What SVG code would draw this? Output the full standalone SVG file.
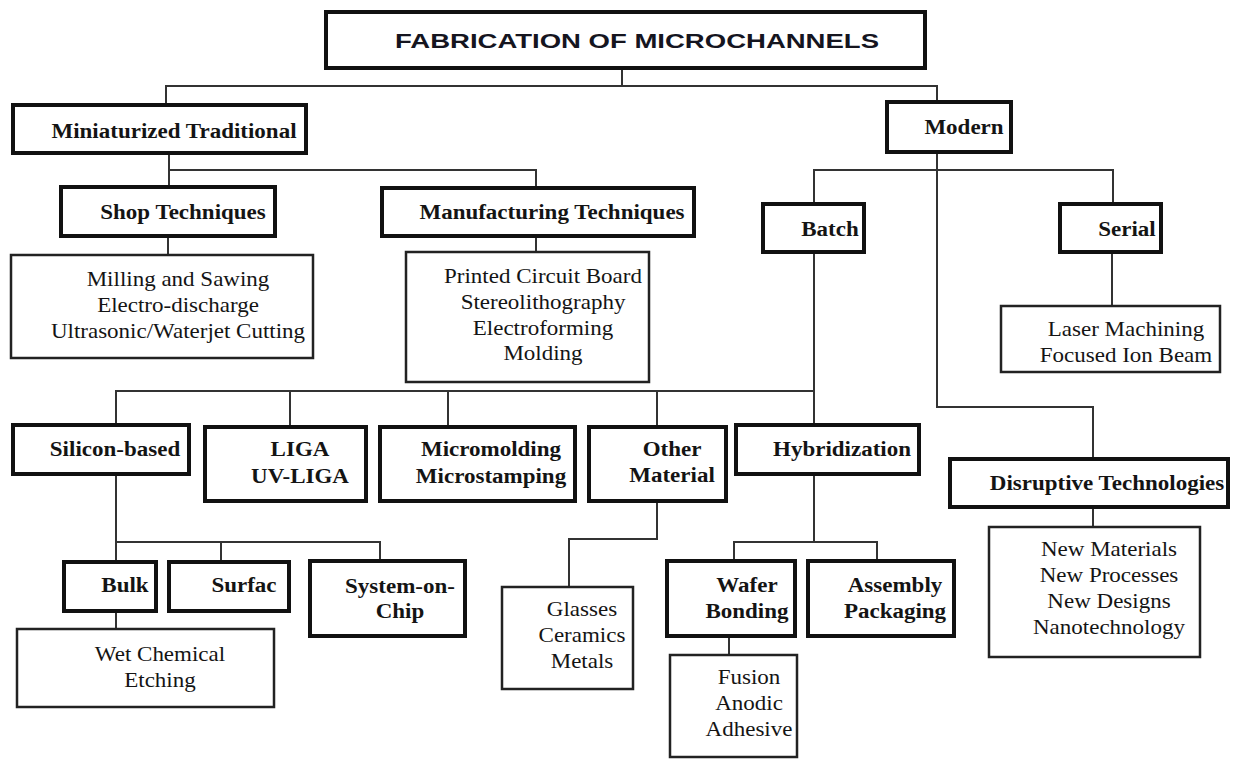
<svg xmlns="http://www.w3.org/2000/svg" width="1233" height="761" viewBox="0 0 1233 761">
<style>
.thick{fill:#fff;stroke:#111;stroke-width:4}
.thin{fill:#fff;stroke:#222;stroke-width:2.5}
.c{fill:none;stroke:#333;stroke-width:2}
.b{font-family:"Liberation Serif","Times New Roman",serif;font-weight:bold;font-size:20px;fill:#141414;text-anchor:middle}
.r{font-family:"Liberation Serif","Times New Roman",serif;font-size:20px;fill:#141414;text-anchor:middle}
.t{font-family:"Liberation Sans",Arial,sans-serif;font-weight:bold;font-size:21px;fill:#15151f}
</style>
<rect width="1233" height="761" fill="#fff"/>
<g id="connectors">
<path class="c" d="M622,70V86M166,103V86H937V100"/>
<path class="c" d="M169,155V170M169,185V170H536V187"/>
<path class="c" d="M168,238V254"/>
<path class="c" d="M536,238V252"/>
<path class="c" d="M814,202V170H1113V202"/>
<path class="c" d="M937,154V407H1093V457"/>
<path class="c" d="M1112,254V305"/>
<path class="c" d="M814,254V423M116,423V391H814M290,391V425M448,391V425M657,391V425"/>
<path class="c" d="M116,476V560M116,542H380V559M221,542V560"/>
<path class="c" d="M116,613V628"/>
<path class="c" d="M657,503V539H569V586"/>
<path class="c" d="M814,476V542M734,559V542H877V559"/>
<path class="c" d="M729,638V654"/>
<path class="c" d="M1093,509V526"/>
</g>
<g id="title"><rect class="thick" x="326" y="12" width="599" height="56"/><text class="t" x="395" y="48" textLength="484" lengthAdjust="spacingAndGlyphs">FABRICATION OF MICROCHANNELS</text></g>
<g id="miniaturized"><rect class="thick" x="13" y="105" width="293" height="48"/><text class="b" transform="translate(174,0) scale(1.15,1)"><tspan x="0" y="138">Miniaturized Traditional</tspan></text></g>
<g id="modern"><rect class="thick" x="887" y="102" width="124" height="50"/><text class="b" transform="translate(964,0) scale(1.15,1)"><tspan x="0" y="134">Modern</tspan></text></g>
<g id="shop"><rect class="thick" x="61" y="187" width="214" height="49"/><text class="b" transform="translate(183,0) scale(1.15,1)"><tspan x="0" y="219">Shop Techniques</tspan></text></g>
<g id="manufacturing"><rect class="thick" x="382" y="188" width="312" height="48"/><text class="b" transform="translate(552,0) scale(1.15,1)"><tspan x="0" y="219">Manufacturing Techniques</tspan></text></g>
<g id="batch"><rect class="thick" x="763" y="204" width="101" height="48"/><text class="b" transform="translate(830,0) scale(1.15,1)"><tspan x="0" y="236">Batch</tspan></text></g>
<g id="serial"><rect class="thick" x="1060" y="204" width="101" height="48"/><text class="b" transform="translate(1127,0) scale(1.15,1)"><tspan x="0" y="236">Serial</tspan></text></g>
<g id="shop-list"><rect class="thin" x="11" y="255" width="302" height="103"/><text class="r" transform="translate(178,0) scale(1.15,1)"><tspan x="0" y="286">Milling and Sawing</tspan><tspan x="0" y="312">Electro-discharge</tspan><tspan x="0" y="338">Ultrasonic/Waterjet Cutting</tspan></text></g>
<g id="manufacturing-list"><rect class="thin" x="406" y="252" width="243" height="130"/><text class="r" transform="translate(543,0) scale(1.15,1)"><tspan x="0" y="283">Printed Circuit Board</tspan><tspan x="0" y="309">Stereolithography</tspan><tspan x="0" y="335">Electroforming</tspan><tspan x="0" y="360">Molding</tspan></text></g>
<g id="serial-list"><rect class="thin" x="1001" y="306" width="219" height="66"/><text class="r" transform="translate(1126,0) scale(1.15,1)"><tspan x="0" y="336">Laser Machining</tspan><tspan x="0" y="362">Focused Ion Beam</tspan></text></g>
<g id="silicon"><rect class="thick" x="13" y="425" width="176" height="49"/><text class="b" transform="translate(115,0) scale(1.15,1)"><tspan x="0" y="456">Silicon-based</tspan></text></g>
<g id="liga"><rect class="thick" x="205" y="427" width="161" height="74"/><text class="b" transform="translate(300,0) scale(1.15,1)"><tspan x="0" y="456">LIGA</tspan><tspan x="0" y="483">UV-LIGA</tspan></text></g>
<g id="micromolding"><rect class="thick" x="380" y="427" width="195" height="74"/><text class="b" transform="translate(491,0) scale(1.15,1)"><tspan x="0" y="456">Micromolding</tspan><tspan x="0" y="483">Microstamping</tspan></text></g>
<g id="other"><rect class="thick" x="589" y="427" width="137" height="74"/><text class="b" transform="translate(672,0) scale(1.15,1)"><tspan x="0" y="456">Other</tspan><tspan x="0" y="482">Material</tspan></text></g>
<g id="hybridization"><rect class="thick" x="736" y="425" width="183" height="49"/><text class="b" transform="translate(842,0) scale(1.15,1)"><tspan x="0" y="456">Hybridization</tspan></text></g>
<g id="disruptive"><rect class="thick" x="950" y="459" width="278" height="48"/><text class="b" transform="translate(1107,0) scale(1.15,1)"><tspan x="0" y="490">Disruptive Technologies</tspan></text></g>
<g id="bulk"><rect class="thick" x="64" y="562" width="92" height="49"/><text class="b" transform="translate(125,0) scale(1.15,1)"><tspan x="0" y="592">Bulk</tspan></text></g>
<g id="surfac"><rect class="thick" x="169" y="562" width="120" height="49"/><text class="b" transform="translate(244,0) scale(1.15,1)"><tspan x="0" y="592">Surfac</tspan></text></g>
<g id="system-on-chip"><rect class="thick" x="310" y="561" width="155" height="75"/><text class="b" transform="translate(400,0) scale(1.15,1)"><tspan x="0" y="593">System-on-</tspan><tspan x="0" y="618">Chip</tspan></text></g>
<g id="wet"><rect class="thin" x="17" y="629" width="257" height="78"/><text class="r" transform="translate(160,0) scale(1.15,1)"><tspan x="0" y="661">Wet Chemical</tspan><tspan x="0" y="687">Etching</tspan></text></g>
<g id="materials-list"><rect class="thin" x="502" y="587" width="131" height="102"/><text class="r" transform="translate(582,0) scale(1.15,1)"><tspan x="0" y="616">Glasses</tspan><tspan x="0" y="642">Ceramics</tspan><tspan x="0" y="668">Metals</tspan></text></g>
<g id="wafer"><rect class="thick" x="667" y="561" width="128" height="75"/><text class="b" transform="translate(747,0) scale(1.15,1)"><tspan x="0" y="592">Wafer</tspan><tspan x="0" y="618">Bonding</tspan></text></g>
<g id="assembly"><rect class="thick" x="808" y="561" width="146" height="75"/><text class="b" transform="translate(895,0) scale(1.15,1)"><tspan x="0" y="592">Assembly</tspan><tspan x="0" y="618">Packaging</tspan></text></g>
<g id="bonding-list"><rect class="thin" x="670" y="655" width="127" height="102"/><text class="r" transform="translate(749,0) scale(1.15,1)"><tspan x="0" y="684">Fusion</tspan><tspan x="0" y="710">Anodic</tspan><tspan x="0" y="736">Adhesive</tspan></text></g>
<g id="disruptive-list"><rect class="thin" x="989" y="527" width="211" height="130"/><text class="r" transform="translate(1109,0) scale(1.15,1)"><tspan x="0" y="556">New Materials</tspan><tspan x="0" y="582">New Processes</tspan><tspan x="0" y="608">New Designs</tspan><tspan x="0" y="634">Nanotechnology</tspan></text></g>
</svg>
